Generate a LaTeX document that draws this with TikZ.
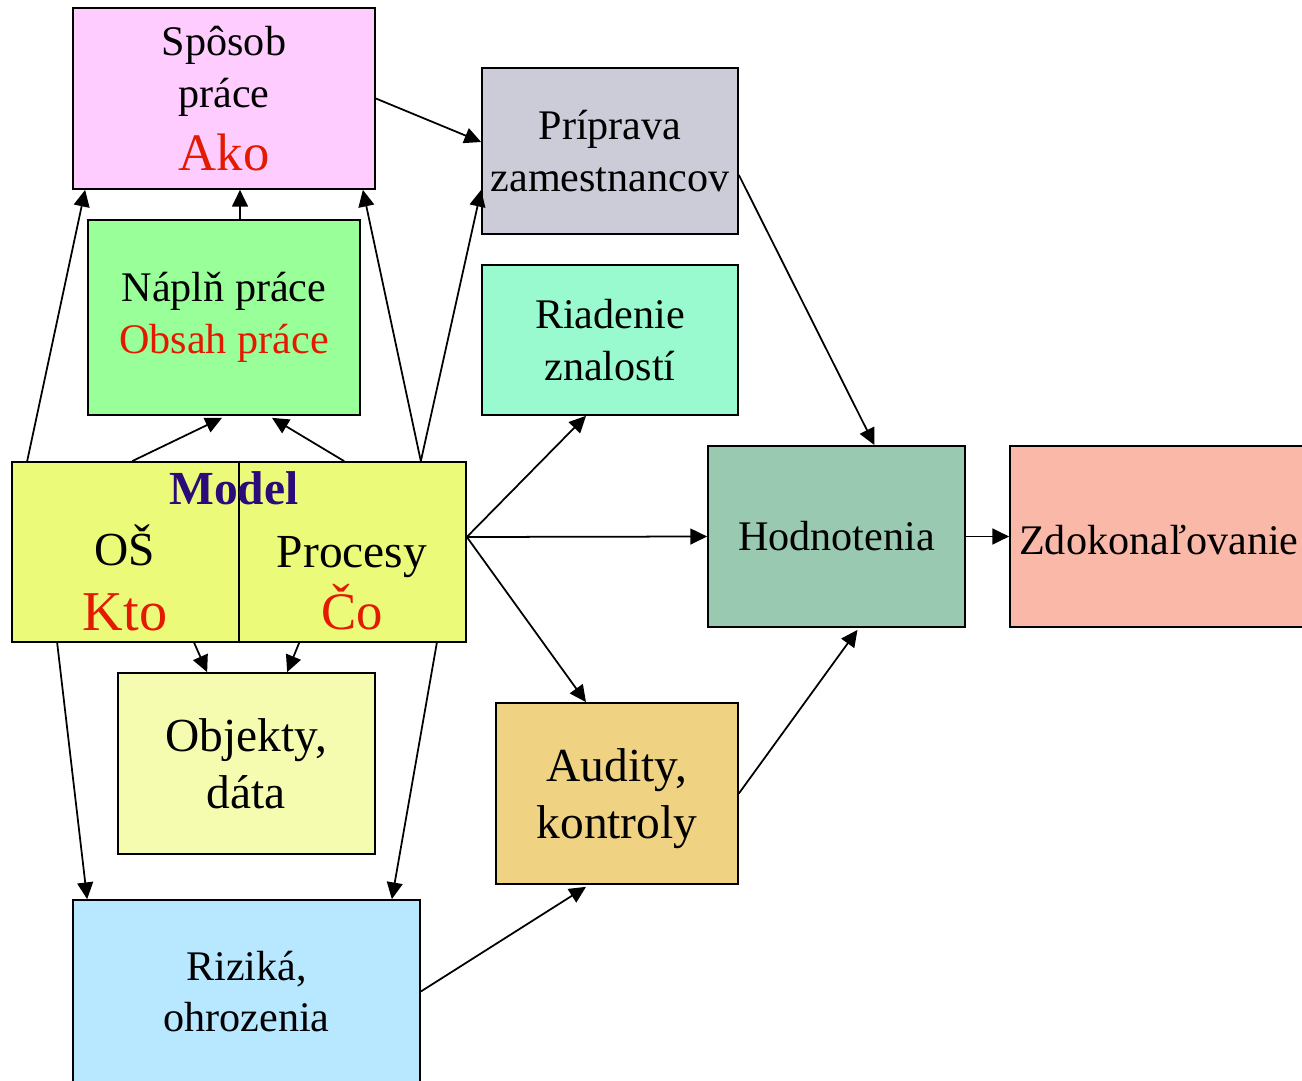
\documentclass[tikz,border=0pt]{standalone}
\usepackage{fontspec}
\setmainfont{Liberation Serif}
\usetikzlibrary{arrows.meta}
\newdimen\pxu \pxu=0.02cm
\definecolor{cpink}{HTML}{FFCCFF}
\definecolor{cgray}{HTML}{CCCCD8}
\definecolor{cgreen}{HTML}{99FF99}
\definecolor{caqua}{HTML}{99FACF}
\definecolor{cmodel}{HTML}{EBFA78}
\definecolor{chod}{HTML}{99C9B1}
\definecolor{czdo}{HTML}{FAB8A8}
\definecolor{cobj}{HTML}{F5FCB0}
\definecolor{caud}{HTML}{F0D283}
\definecolor{criz}{HTML}{B8E8FF}
\definecolor{cred}{HTML}{E31A00}
\definecolor{cblue}{HTML}{2B0A7A}
\tikzset{
  box/.style={draw=black, line width=1pt, rectangle, inner sep=0pt, align=center,
    font=\fontsize{24}{29.5}\selectfont},
  arr/.style={line width=1pt, -{Triangle[length=9.5pt,width=9pt]}},
  big/.style={font=\fontsize{27}{32.5}\selectfont},
}
\begin{document}
\begin{tikzpicture}[x=0.02cm,y=-0.02cm]
\useasboundingbox (0,0) rectangle (1302,1081);
\clip (0,0) rectangle (1302,1081);
\node[box, fill=cpink, minimum width=6.04cm, minimum height=3.62cm] (spo) at (224,98.5)
  {Spôsob\\práce\\[6pt]{\fontsize{30}{32}\selectfont\color{cred}Ako}};
\node[box, fill=cgray, minimum width=5.12cm, minimum height=3.32cm] (pri) at (610,151)
  {Príprava\\zamestnancov};
\node[box, fill=cgreen, minimum width=5.44cm, minimum height=3.9cm] (nap) at (224,317.5)
  {Náplň práce\\{\color{cred}Obsah práce}};
\node[box, fill=caqua, minimum width=5.12cm, minimum height=3.0cm] (ria) at (610,340)
  {Riadenie\\znalostí};
\node[box, fill=cmodel, minimum width=9.08cm, minimum height=3.6cm] (model) at (239,552) {};
\draw[line width=1pt] (model.north) -- (model.south);
\node[font=\fontsize{27}{32}\selectfont\bfseries, text=cblue] (mtitle) at (234,488) {Model};
\node[big] (os) at (125,545) {OŠ};
\node[font=\fontsize{32}{36}\selectfont, text=cred] (kto) at (125,612) {Kto};
\node[big] (proc) at (352,557) {Procesy};
\node[font=\fontsize{30}{34}\selectfont, text=cred] (co) at (352,607) {Čo};
\node[box, fill=chod, minimum width=5.14cm, minimum height=3.62cm] (hod) at (836.5,536.5)
  {Hodnotenia};
\node[box, fill=czdo, minimum width=6.0cm, minimum height=3.62cm] (zdo) at (1160,536.5) {};
\node[font=\fontsize{24}{29.5}\selectfont, anchor=west] (zdot) at (1013,540) {Zdokonaľovanie};
\node[box, big, fill=cobj, minimum width=5.14cm, minimum height=3.62cm] (obj) at (246.5,763.5)
  {Objekty,\\dáta};
\node[box, fill=caud, minimum width=4.84cm, minimum height=3.62cm] (aud) at (617,793.5) {};
\node[big, align=center] (audt) at (617,799) {Audity,\\kontroly};
\node[box, fill=criz, minimum width=6.94cm, minimum height=3.66cm] (riz) at (246.5,991.5)
  {Riziká,\\ohrozenia};
% arrows
\draw[arr] (spo.east) -- ([yshift=9\pxu]pri.west);
\draw[arr] ([xshift=16\pxu]nap.north) -- ([xshift=16\pxu]spo.south);
\draw[arr] ([xshift=16\pxu]model.north west) -- ([xshift=13\pxu]spo.south west);
\draw[arr] ([xshift=-46\pxu]model.north east) -- ([xshift=-13\pxu]spo.south east);
\draw[arr] ([xshift=-46\pxu]model.north east) -- ([yshift=45\pxu]pri.south west);
\draw[arr] ([xshift=121\pxu]model.north west) -- ([xshift=-2\pxu,yshift=-2\pxu]nap.south);
\draw[arr] ([xshift=333\pxu]model.north west) -- ([xshift=48\pxu,yshift=-2\pxu]nap.south);
\draw[arr] ([yshift=15\pxu]model.east) -- ([xshift=-24\pxu]ria.south);
\draw[arr] ([yshift=15\pxu]model.east) -- (hod.west);
\draw[arr] ([yshift=15\pxu]model.east) -- ([xshift=-31\pxu]aud.north);
\draw[arr] ([yshift=-24\pxu]pri.east) -- ([xshift=38\pxu]hod.north);
\draw[arr] (hod.east) -- (zdo.west);
\draw[arr] (aud.east) -- ([xshift=21\pxu,yshift=-2\pxu]hod.south);
\draw[arr] (riz.east) -- ([xshift=-31\pxu,yshift=-2\pxu]aud.south);
\draw[arr] ([xshift=46\pxu]model.south west) -- ([xshift=15\pxu]riz.north west);
\draw[arr] ([xshift=-30\pxu]model.south east) -- ([xshift=-29\pxu]riz.north east);
\draw[arr] ([xshift=183\pxu]model.south west) -- ([xshift=90\pxu]obj.north west);
\draw[arr] ([xshift=288\pxu]model.south west) -- ([xshift=170\pxu]obj.north west);
\end{tikzpicture}
\end{document}
